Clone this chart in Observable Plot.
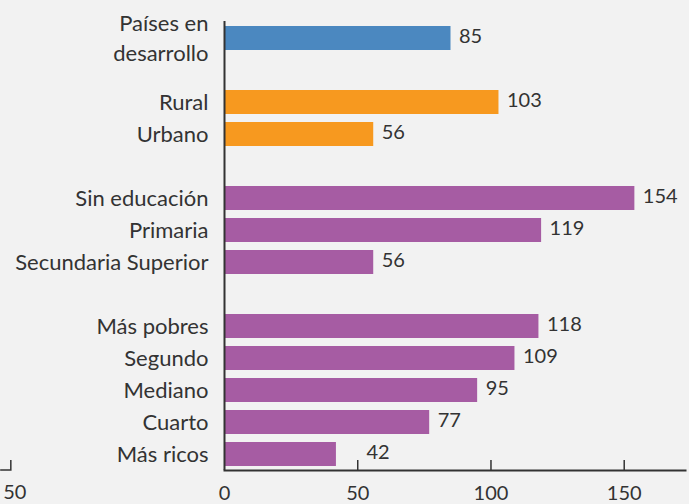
<!DOCTYPE html>
<html>
<head>
<meta charset="utf-8">
<script src="https://cdn.jsdelivr.net/npm/d3@7"></script>
<script src="https://cdn.jsdelivr.net/npm/@observablehq/plot@0.6"></script>
<style>
  html, body { margin: 0; padding: 0; background: #f2f2f2; }
</style>
</head>
<body>
<div id="chart"></div>
<script>
// Data
const categories = ["Países en\ndesarrollo", "Rural", "Urbano", "Sin educación", "Primaria",
  "Secundaria Superior", "Más pobres", "Segundo", "Mediano", "Cuarto", "Más ricos"];
const values = [85, 103, 56, 154, 119, 56, 118, 109, 95, 77, 42];
const groups = ["Total", "Residencia", "Residencia", "Educación", "Educación", "Educación",
  "Riqueza", "Riqueza", "Riqueza", "Riqueza", "Riqueza"];
const slotOrder = ["Países en\ndesarrollo", "gap1", "Rural", "Urbano", "gap2", "Sin educación",
  "Primaria", "Secundaria Superior", "gap3", "Más pobres", "Segundo", "Mediano", "Cuarto", "Más ricos"];
const groupNames = ["Total", "Residencia", "Educación", "Riqueza"];
const groupColors = ["#4b88c0", "#f7991f", "#a65ca3", "#a65ca3"];
const xTicks = [0, 50, 100, 150];
const ghostAxis = [-84, -80];   // stub of neighbouring panel's axis (cropped)
const ghostLabel = "50";

const data = categories.map((c, i) => ({category: c, value: values[i], group: groups[i]}));
const ink = "#333333";
const shortBar = d => d.value < 50;   // label pushed clear of the 50 tick

const ghostMark = (index, scales, vals, dims) => {
  const g = d3.create("svg:g");
  const yb = dims.height - dims.marginBottom;
  const xa = scales.x(ghostAxis[0]), xb = scales.x(ghostAxis[1]);
  g.append("path")
    .attr("d", `M${xa},${yb}H${xb}V${yb - 10}`)
    .attr("fill", "none").attr("stroke", ink).attr("stroke-width", 1.5);
  g.append("text")
    .attr("x", xb + 4).attr("y", yb + 15).attr("dy", "0.71em")
    .attr("text-anchor", "middle").attr("fill", ink).attr("font-size", 20)
    .text(ghostLabel);
  return g.node();
};

const chart = Plot.plot({
  width: 689,
  height: 504,
  marginLeft: 224,
  marginRight: 4,
  marginTop: 21,
  marginBottom: 34,
  style: {fontFamily: "Lato, 'Open Sans', sans-serif", fontSize: "22px", color: ink, background: "#f2f2f2", overflow: "visible"},
  x: {domain: [0, 173], axis: null},
  y: {domain: slotOrder, paddingInner: 0.25, paddingOuter: 0.108, axis: null},
  color: {domain: groupNames, range: groupColors},
  marks: [
    Plot.barX(data, {x: "value", y: "category", fill: "group"}),
    Plot.text(data, {filter: d => !shortBar(d), x: "value", y: "category", text: d => String(d.value), textAnchor: "start", dx: 8, dy: -2, fill: ink, fontSize: 20}),
    Plot.text(data, {filter: shortBar, x: "value", y: "category", text: d => String(d.value), textAnchor: "start", dx: 30, dy: -2, fill: ink, fontSize: 20}),
    Plot.text(data, {x: 0, y: "category", text: "category", textAnchor: "end", dx: -16, dy: -2, fill: ink, lineHeight: 1.36}),
    Plot.ruleX([0], {stroke: ink, strokeWidth: 2}),
    Plot.frame({anchor: "bottom", stroke: ink, strokeWidth: 2}),
    Plot.axisX(xTicks.filter(t => t > 0), {tickSize: -10, text: null, label: null, stroke: ink, strokeWidth: 1.5}),
    Plot.axisX(xTicks, {tickSize: 0, tickPadding: 15, label: null, fill: ink, fontSize: 20}),
    ghostMark
  ]
});
document.getElementById("chart").append(chart);
</script>
</body>
</html>
